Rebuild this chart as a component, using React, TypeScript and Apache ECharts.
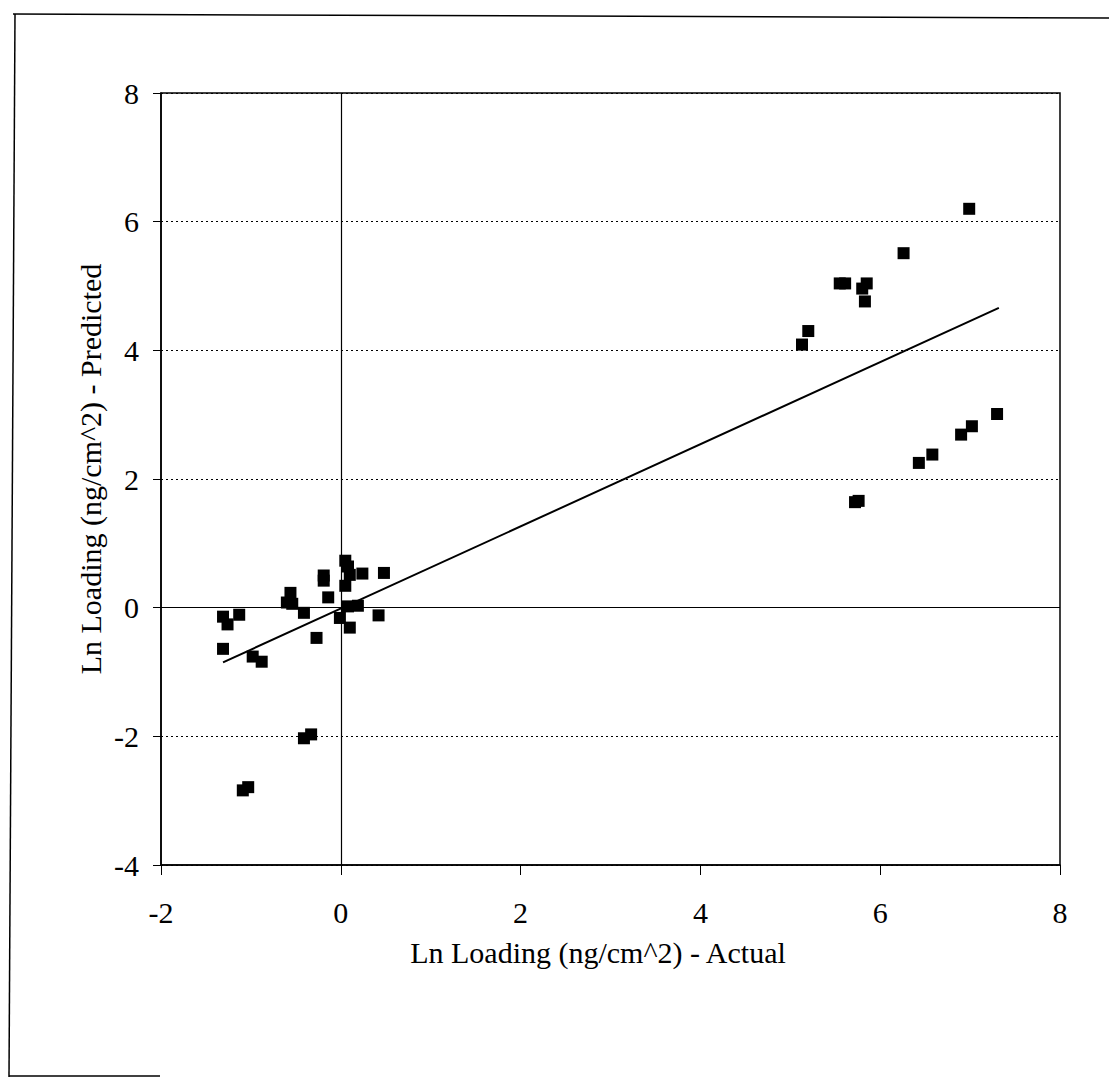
import React, { useEffect, useRef } from "react";
import * as echarts from "echarts";

const actualX = [
  -1.31, -1.26, -1.13, -1.31, -0.98, -0.88, -0.56, -0.6, -0.54, -0.41, -0.27, -0.19, -0.19, -0.14,
  0.05, 0.08, 0.1, 0.05, 0.24, 0.48, 0.08, 0.19, -0.01, 0.1, 0.42,
  -0.41, -0.33, -1.09, -1.03,
  6.99, 6.26, 5.55, 5.61, 5.85, 5.8, 5.83, 5.2, 5.13,
  7.3, 7.02, 6.9, 6.58, 6.43, 5.72, 5.76,
];
const predictedY = [
  -0.14, -0.26, -0.11, -0.64, -0.76, -0.84, 0.23, 0.08, 0.06, -0.08, -0.47, 0.5, 0.42, 0.16,
  0.73, 0.64, 0.51, 0.34, 0.53, 0.54, 0.02, 0.03, -0.16, -0.31, -0.12,
  -2.03, -1.97, -2.84, -2.79,
  6.2, 5.51, 5.04, 5.04, 5.04, 4.96, 4.76, 4.3, 4.09,
  3.01, 2.82, 2.69, 2.38, 2.25, 1.64, 1.66,
];
const trendX = [-1.31, 7.32];
const trendY = [-0.85, 4.66];
const xTicks = [-2, 0, 2, 4, 6, 8];
const yTicks = [-4, -2, 0, 2, 4, 6, 8];
const xTitle = "Ln Loading (ng/cm^2) - Actual";
const yTitle = "Ln Loading (ng/cm^2) - Predicted";

const FONT = "'Liberation Serif', 'Times New Roman', serif";

export default function App() {
  const ref = useRef<HTMLDivElement>(null);
  useEffect(() => {
    if (!ref.current) return;
    const chart = echarts.init(ref.current, undefined, { renderer: "svg" });
    const points = actualX.map((x, i) => [x, predictedY[i]]);
    const trend = trendX.map((x, i) => [x, trendY[i]]);
    chart.setOption({
      animation: false,
      backgroundColor: "#ffffff",
      grid: {
        left: 161,
        top: 93,
        width: 899,
        height: 772,
        show: true,
        borderColor: "#000",
        borderWidth: 1.5,
        backgroundColor: "transparent",
      },
      xAxis: {
        type: "value",
        min: xTicks[0],
        max: xTicks[xTicks.length - 1],
        interval: 2,
        axisLine: { show: true, onZero: false, lineStyle: { color: "#000", width: 1.5 } },
        axisTick: { show: true, length: 10, lineStyle: { color: "#000", width: 1 } },
        axisLabel: { color: "#000", fontFamily: FONT, fontSize: 30, margin: 32 },
        splitLine: { show: false },
      },
      yAxis: {
        type: "value",
        min: yTicks[0],
        max: yTicks[yTicks.length - 1],
        interval: 2,
        axisLine: { show: true, onZero: false, lineStyle: { color: "#000", width: 1.5 } },
        axisTick: { show: true, length: 8, lineStyle: { color: "#000", width: 1 } },
        axisLabel: { color: "#000", fontFamily: FONT, fontSize: 30, margin: 22 },
        splitLine: { show: true, lineStyle: { color: "#000", width: 1.2, type: [2, 3] } },
      },
      graphic: [
        {
          type: "text",
          x: 598,
          y: 952,
          style: {
            text: xTitle,
            fontFamily: FONT,
            fontSize: 30,
            fill: "#000",
            textAlign: "center",
            textVerticalAlign: "middle",
          },
        },
        {
          type: "text",
          x: 90,
          y: 469,
          rotation: Math.PI / 2,
          style: {
            text: yTitle,
            fontFamily: FONT,
            fontSize: 30,
            fill: "#000",
            textAlign: "center",
            textVerticalAlign: "middle",
          },
        },
        { type: "line", shape: { x1: 13, y1: 14, x2: 1109, y2: 18 }, style: { stroke: "#000", lineWidth: 1.5 } },
        { type: "line", shape: { x1: 15, y1: 14, x2: 9, y2: 1077 }, style: { stroke: "#000", lineWidth: 1.5 } },
        { type: "line", shape: { x1: 9, y1: 1076, x2: 160, y2: 1076 }, style: { stroke: "#000", lineWidth: 1.5 } },
      ],
      series: [
        {
          type: "scatter",
          data: points,
          symbol: "rect",
          symbolSize: 12,
          itemStyle: { color: "#000", opacity: 1 },
          markLine: {
            silent: true,
            symbol: "none",
            label: { show: false },
            lineStyle: { color: "#000", width: 1.2, type: "solid" },
            data: [{ xAxis: 0 }, { yAxis: 0 }],
          },
          z: 3,
        },
        {
          type: "line",
          data: trend,
          showSymbol: false,
          symbol: "none",
          lineStyle: { color: "#000", width: 2 },
          z: 4,
        },
      ],
    });
    return () => chart.dispose();
  }, []);
  return (
    <div
      ref={ref}
      style={{ position: "fixed", left: 0, top: 0, width: 1109, height: 1078, background: "#fff" }}
    />
  );
}
